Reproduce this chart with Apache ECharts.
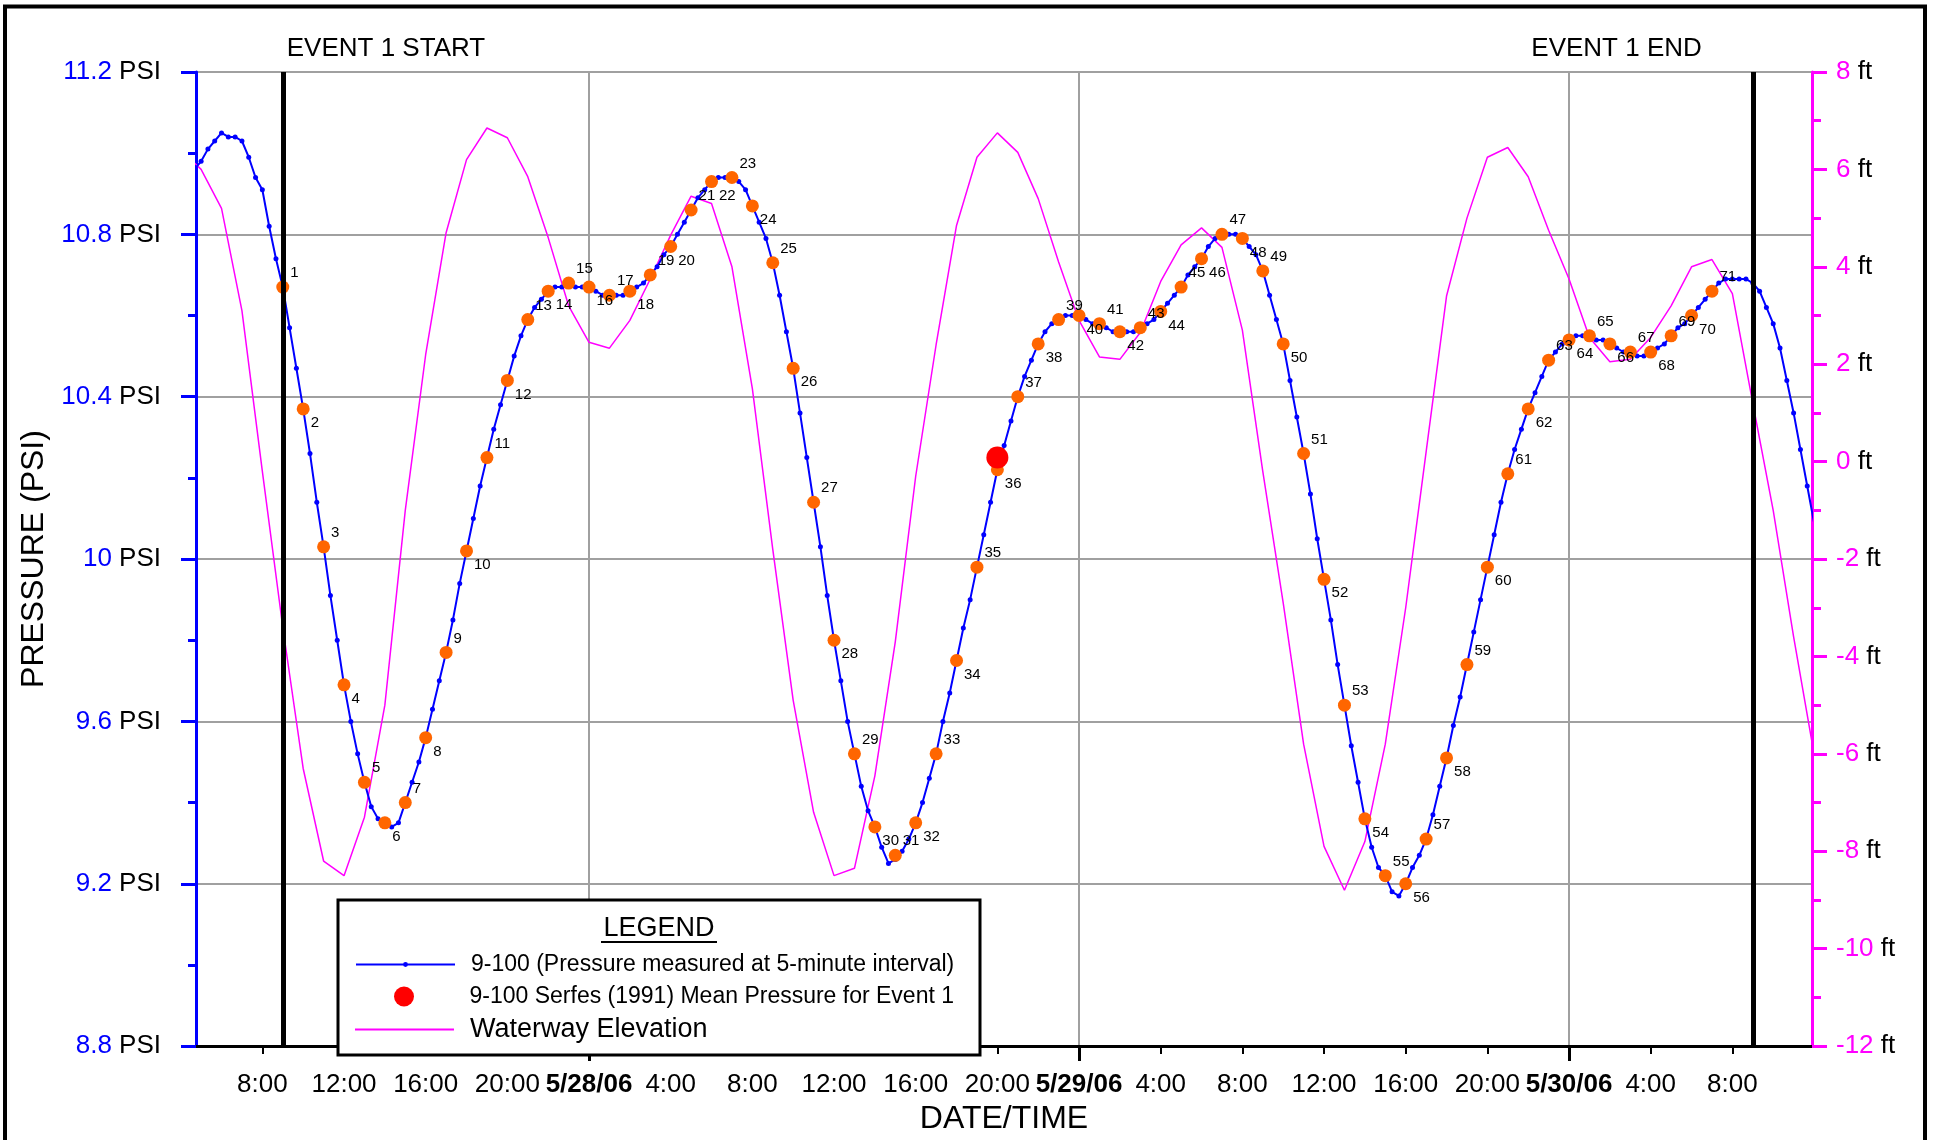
<!DOCTYPE html>
<html>
<head>
<meta charset="utf-8">
<title>Event 1 - pressure and waterway elevation</title>
<script src="https://cdn.jsdelivr.net/npm/echarts@6.0.0/dist/echarts.min.js"></script>
<style>
  html, body { margin: 0; padding: 0; background: #fff; }
  #chart { width: 1933px; height: 1140px; }
</style>
</head>
<body>
<div id="chart"></div>
<script>
// all times are hours counted from 5/27/06 00:00
const X_MIN = 4.75;
const X_MAX = 83.9;
const TICK_HOURS = [8, 12, 16, 20, 24, 28, 32, 36, 40, 44, 48, 52, 56, 60, 64, 68, 72, 76, 80];
const DAY_HOURS = [24, 48, 72];
const DAY_LABELS = ['5/28/06', '5/29/06', '5/30/06'];
const EVENT_START = 9;
const EVENT_END = 81;

const PRESSURE_NAME = '9-100 (Pressure measured at 5-minute interval)';
const SERFES_NAME = '9-100 Serfes (1991) Mean Pressure for Event 1';
const ELEV_NAME = 'Waterway Elevation';

// blue pressure trace, read every 20 minutes starting 5/27 4:40
const PRESSURE_START = 4 + 40 / 60;
const PRESSURE_STEP = 20 / 60;
const PRESSURE = [
  10.96,
  10.98, 11.01, 11.03,  11.05, 11.04, 11.04,  11.03, 10.99, 10.94,  10.91, 10.82, 10.74,
  10.67, 10.57, 10.47,  10.37, 10.26, 10.14,  10.03, 9.91, 9.80,  9.69, 9.60, 9.52,
  9.45, 9.39, 9.36,  9.35, 9.34, 9.35,  9.40, 9.45, 9.50,  9.56, 9.63, 9.70,
  9.77, 9.85, 9.94,  10.02, 10.10, 10.18,  10.25, 10.32, 10.38,  10.44, 10.50, 10.55,
  10.59, 10.62, 10.64,  10.66, 10.67, 10.67,  10.68, 10.67, 10.67,  10.67, 10.66, 10.65,
  10.65, 10.65, 10.65,  10.66, 10.67, 10.68,  10.70, 10.72, 10.75,  10.77, 10.80, 10.83,
  10.86, 10.89, 10.91,  10.93, 10.94, 10.94,  10.94, 10.93, 10.91,  10.87, 10.83, 10.79,
  10.73, 10.65, 10.56,  10.47, 10.36, 10.25,  10.14, 10.03, 9.91,  9.80, 9.70, 9.60,
  9.52, 9.44, 9.38,  9.34, 9.29, 9.25,  9.26, 9.28, 9.31,  9.35, 9.40, 9.46,
  9.52, 9.60, 9.67,  9.75, 9.83, 9.90,  9.98, 10.06, 10.14,  10.22, 10.28, 10.34,
  10.40, 10.45, 10.49,  10.53, 10.56, 10.58,  10.59, 10.60, 10.60,  10.60, 10.59, 10.58,
  10.58, 10.57, 10.56,  10.56, 10.56, 10.56,  10.57, 10.58, 10.59,  10.61, 10.63, 10.65,
  10.67, 10.70, 10.72,  10.74, 10.77, 10.79,  10.80, 10.80, 10.80,  10.79, 10.77, 10.75,
  10.71, 10.65, 10.59,  10.53, 10.44, 10.35,  10.26, 10.16, 10.05,  9.95, 9.85, 9.74,
  9.64, 9.54, 9.45,  9.36, 9.29, 9.24,  9.22, 9.18, 9.17,  9.20, 9.24, 9.27,
  9.31, 9.37, 9.44,  9.51, 9.59, 9.66,  9.74, 9.82, 9.90,  9.98, 10.06, 10.14,
  10.21, 10.27, 10.32,  10.37, 10.41, 10.45,  10.49, 10.51, 10.53,  10.54, 10.55, 10.55,
  10.55, 10.54, 10.54,  10.53, 10.52, 10.51,  10.51, 10.50, 10.50,  10.51, 10.52, 10.53,
  10.55, 10.57, 10.58,  10.60, 10.62, 10.64,  10.66, 10.68, 10.69,  10.69, 10.69, 10.69,
  10.68, 10.66, 10.62,  10.58, 10.52, 10.44,  10.36, 10.27, 10.18,
  10.09
];

// numbered hourly readings 1..71, first one at 5/27 9:00
const HOURLY_START = 9;
const HOURLY = [
  10.67, 10.37, 10.03, 9.69, 9.45, 9.35, 9.40, 9.56, 9.77, 10.02,
  10.25, 10.44, 10.59, 10.66, 10.68, 10.67, 10.65, 10.66, 10.70, 10.77,
  10.86, 10.93, 10.94, 10.87, 10.73, 10.47, 10.14, 9.80, 9.52, 9.34,
  9.27, 9.35, 9.52, 9.75, 9.98, 10.22, 10.40, 10.53, 10.59, 10.60,
  10.58, 10.56, 10.57, 10.61, 10.67, 10.74, 10.80, 10.79, 10.71, 10.53,
  10.26, 9.95, 9.64, 9.36, 9.22, 9.20, 9.31, 9.51, 9.74, 9.98,
  10.21, 10.37, 10.49, 10.54, 10.55, 10.53, 10.51, 10.51, 10.55, 10.60,
  10.66
];

const SERFES_HOUR = 44;
const SERFES_MEAN = 10.25;

// waterway elevation (ft), hourly from 5/27 4:00
const ELEV_START = 4;
const ELEVATION = [
  6.4, 6.0, 5.2, 3.1, -0.2, -3.4, -6.3, -8.2, -8.5, -7.3,
  -5.0, -1.0, 2.2, 4.7, 6.2, 6.85, 6.65, 5.85, 4.6, 3.2,
  2.45, 2.33, 2.9, 3.75, 4.65, 5.45, 5.3, 4.0, 1.5, -1.8,
  -4.9, -7.2, -8.5, -8.35, -6.45, -3.7, -0.3, 2.4, 4.85, 6.25,
  6.75, 6.35, 5.4, 4.1, 2.9, 2.15, 2.1, 2.65, 3.7, 4.45,
  4.8, 4.4, 2.7, -0.2, -2.9, -5.8, -7.9, -8.8, -7.8, -5.8,
  -3.0, 0.2, 3.4, 5.0, 6.25, 6.45, 5.85, 4.75, 3.75, 2.55,
  2.05, 2.1, 2.55, 3.2, 4.0, 4.15, 3.45, 1.2, -1.0, -3.6,
  -6.0
];

const FONT = '"Liberation Sans", Arial, sans-serif';
const BLUE = '#0000FF';
const MAGENTA = '#FF00FF';
const ORANGE = '#FF6600';
const GRID_GRAY = '#A0A0A0';

function tickLabel(h) {
  h = Math.round(h);
  const d = DAY_HOURS.indexOf(h);
  if (d >= 0) return '{d|' + DAY_LABELS[d] + '}';
  return (h % 24) + ':00';
}

const pressureData = PRESSURE.map((v, i) => [PRESSURE_START + i * PRESSURE_STEP, v]);
const hourlyData = HOURLY.map((v, i) => ({
  value: [HOURLY_START + i, v],
  // odd numbers sit above-right of the dot, even ones below-right
  label: { offset: [0, i % 2 === 0 ? -14 : 14] }
}));
const elevData = ELEVATION.map((v, i) => [ELEV_START + i, v]);

const chart = echarts.init(document.getElementById('chart'));

const legendText = (size) => ({ fontFamily: FONT, fontSize: size, color: '#000', padding: [0, 0, 0, 11] });

const option = {
  animation: false,
  backgroundColor: '#fff',
  textStyle: { fontFamily: FONT },
  grid: { left: 196, right: 121, top: 72, bottom: 87 },
  legend: [
    {
      data: [PRESSURE_NAME], left: 350, top: 948, itemWidth: 99, itemHeight: 6,
      selectedMode: false, textStyle: legendText(23)
    },
    {
      data: [{ name: SERFES_NAME, icon: 'circle' }], left: 389, top: 980, itemWidth: 99, itemHeight: 20,
      selectedMode: false, textStyle: legendText(23)
    },
    {
      data: [{ name: ELEV_NAME, icon: 'path://M0,0H99V2H0Z' }], left: 350, top: 1011, itemWidth: 99, itemHeight: 2,
      selectedMode: false, textStyle: legendText(27)
    }
  ],
  xAxis: [
    {
      type: 'value', min: X_MIN, max: X_MAX, position: 'bottom',
      name: 'DATE/TIME', nameLocation: 'middle', nameGap: 55,
      nameTextStyle: { fontSize: 32, color: '#000', fontFamily: FONT },
      axisLine: { onZero: false, lineStyle: { color: '#000', width: 3 } },
      axisTick: { customValues: TICK_HOURS, length: 8, lineStyle: { color: '#000', width: 2 } },
      axisLabel: {
        customValues: TICK_HOURS, margin: 26, fontSize: 26, color: '#000',
        formatter: tickLabel,
        rich: { d: { fontSize: 26, fontWeight: 'bold', color: '#000', fontFamily: FONT } }
      },
      splitLine: { show: false }
    },
    {
      // day boundaries: longer ticks and vertical grid lines
      type: 'value', min: X_MIN, max: X_MAX, position: 'bottom', offset: 0,
      axisLine: { show: false, onZero: false },
      axisTick: { customValues: DAY_HOURS, length: 15, lineStyle: { color: '#000', width: 3 } },
      axisLabel: { show: false },
      splitLine: { show: true, lineStyle: { color: GRID_GRAY, width: 2 } }
    }
  ],
  yAxis: [
    {
      type: 'value', min: 8.8, max: 11.2, interval: 0.4, position: 'left',
      name: 'PRESSURE (PSI)', nameLocation: 'middle', nameGap: 143,
      nameTextStyle: { fontSize: 32, color: '#000', fontFamily: FONT },
      axisLine: { show: true, onZero: false, lineStyle: { color: BLUE, width: 3 } },
      axisTick: { show: true, length: 15, lineStyle: { color: BLUE, width: 3 } },
      minorTick: { show: true, splitNumber: 2, length: 8, lineStyle: { color: BLUE, width: 3 } },
      axisLabel: {
        margin: 35, fontSize: 26, color: '#000',
        formatter: (v) => '{v|' + (+v.toFixed(1)) + '} {u|PSI}',
        rich: {
          v: { color: BLUE, fontSize: 26, fontFamily: FONT },
          u: { color: '#000', fontSize: 26, fontFamily: FONT }
        }
      },
      splitLine: { show: true, lineStyle: { color: GRID_GRAY, width: 2 } }
    },
    {
      type: 'value', min: -12, max: 8, interval: 2, position: 'right',
      axisLine: { show: true, onZero: false, lineStyle: { color: MAGENTA, width: 3 } },
      axisTick: { show: true, length: 15, lineStyle: { color: MAGENTA, width: 3 } },
      minorTick: { show: true, splitNumber: 2, length: 9, lineStyle: { color: MAGENTA, width: 3 } },
      axisLabel: {
        margin: 24, fontSize: 26, color: '#000',
        formatter: (v) => '{v|' + v + '} {u|ft}',
        rich: {
          v: { color: MAGENTA, fontSize: 26, fontFamily: FONT },
          u: { color: '#000', fontSize: 26, fontFamily: FONT }
        }
      },
      splitLine: { show: false }
    }
  ],
  series: [
    {
      name: ELEV_NAME, type: 'line', yAxisIndex: 1, data: elevData,
      symbol: 'none', color: MAGENTA, lineStyle: { color: MAGENTA, width: 1.5 },
      z: 1, silent: true, emphasis: { disabled: true },
      markLine: {
        silent: true, symbol: 'none', label: { show: false },
        lineStyle: { color: '#000', width: 5, type: 'solid' },
        data: [{ xAxis: EVENT_START }, { xAxis: EVENT_END }]
      }
    },
    {
      name: PRESSURE_NAME, type: 'line', data: pressureData,
      symbol: 'circle', symbolSize: 5, color: BLUE,
      itemStyle: { color: BLUE }, lineStyle: { color: BLUE, width: 2 },
      z: 2, silent: true, emphasis: { disabled: true }
    },
    {
      name: 'Hourly readings', type: 'scatter', data: hourlyData,
      symbolSize: 13, itemStyle: { color: ORANGE, opacity: 1 },
      label: {
        show: true, position: 'right', distance: 1,
        fontSize: 15, color: '#000', fontFamily: FONT,
        formatter: (p) => String(p.dataIndex + 1)
      },
      z: 3, silent: true, emphasis: { disabled: true }
    },
    {
      name: SERFES_NAME, type: 'scatter', data: [[SERFES_HOUR, SERFES_MEAN]],
      symbolSize: 22, itemStyle: { color: '#FF0000', opacity: 1 },
      z: 4, silent: true, emphasis: { disabled: true }
    }
  ]
};

chart.setOption(option);

const startX = chart.convertToPixel({ xAxisIndex: 0 }, EVENT_START);
const endX = chart.convertToPixel({ xAxisIndex: 0 }, EVENT_END);

chart.setOption({
  graphic: [
    {
      id: 'frame', type: 'rect', z: 10, silent: true,
      shape: { x: 5, y: 6.5, width: 1920, height: 1200 },
      style: { fill: 'none', stroke: '#000', lineWidth: 4 }
    },
    {
      id: 'legendBox', type: 'rect', z: 3, silent: true,
      shape: { x: 338, y: 900, width: 642, height: 155 },
      style: { fill: '#fff', stroke: '#000', lineWidth: 3 }
    },
    {
      id: 'legendTitle', type: 'text', z: 5, silent: true, x: 659, y: 929,
      style: { text: 'LEGEND', fontSize: 27, fontFamily: FONT, fill: '#000', align: 'center', verticalAlign: 'middle' }
    },
    {
      id: 'legendUnderline', type: 'line', z: 5, silent: true,
      shape: { x1: 601, y1: 942, x2: 717, y2: 942 },
      style: { stroke: '#000', lineWidth: 2 }
    },
    {
      id: 'eventStart', type: 'text', z: 5, silent: true, x: startX + 4, y: 49,
      style: { text: 'EVENT 1 START', fontSize: 26, fontFamily: FONT, fill: '#000', align: 'left', verticalAlign: 'middle' }
    },
    {
      id: 'eventEnd', type: 'text', z: 5, silent: true, x: endX - 51, y: 49,
      style: { text: 'EVENT 1 END', fontSize: 26, fontFamily: FONT, fill: '#000', align: 'right', verticalAlign: 'middle' }
    }
  ]
});
</script>
</body>
</html>
